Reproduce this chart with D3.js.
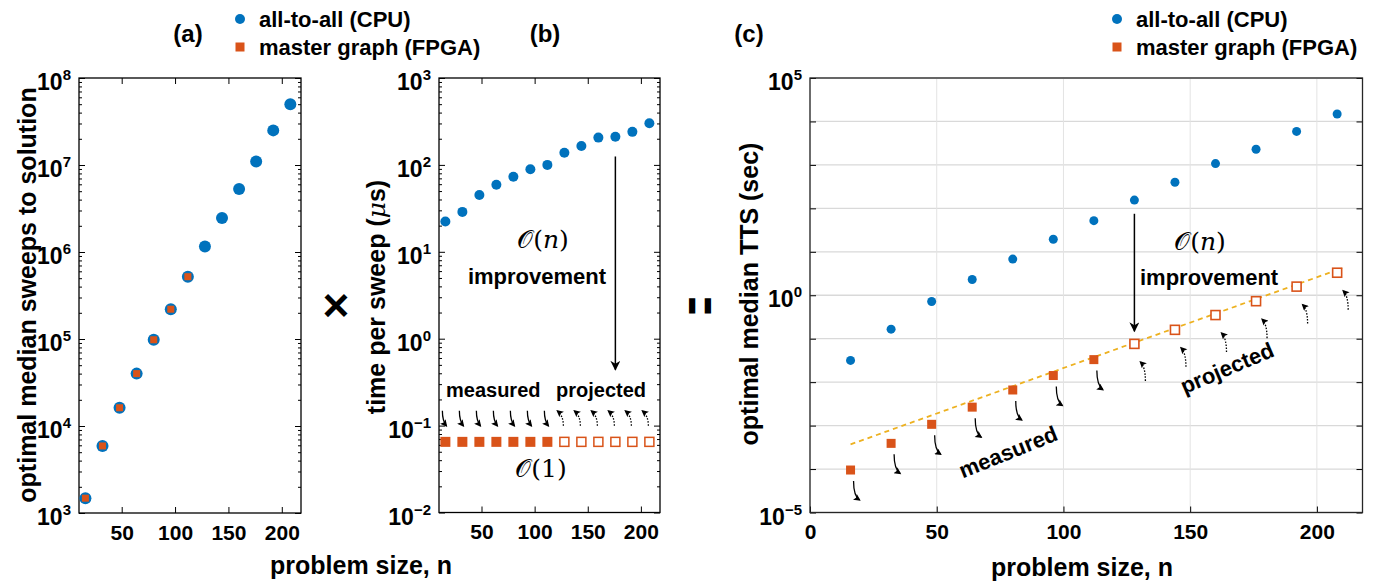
<!DOCTYPE html>
<meta charset="utf-8">
<style>
body { margin: 0; background: #fff; }
text { font-family: "Liberation Sans", Arial, sans-serif; font-weight: bold; fill: #000; }
.math { font-family: "DejaVu Serif", serif; font-weight: normal; }
</style>
<body>
<script src="https://d3js.org/d3.v7.min.js"></script>
<script>

var width = 1377, height = 582;

// ---- data ----
var nVals = [16, 32, 48, 64, 80, 96, 112, 128, 144, 160, 176, 192, 208];
var measuredCount = 7;   // FPGA points actually measured, the rest projected

// (a) optimal median sweeps to solution
var sweepsCPU  = [1.48e3, 5.9e3, 1.62e4, 4.0e4, 9.8e4, 2.2e5, 5.2e5, 1.16e6, 2.46e6, 5.3e6, 1.1e7, 2.5e7, 5.0e7];
var sweepsFPGA = [1.48e3, 5.9e3, 1.62e4, 4.0e4, 9.8e4, 2.2e5, 5.2e5];

// (b) time per sweep (us)
var timeCPU  = [22.3, 28.8, 45, 59, 73, 89, 100, 138, 165, 206, 211, 240, 302];
var timeFPGA = [0.065, 0.065, 0.065, 0.065, 0.065, 0.065, 0.065, 0.065, 0.065, 0.065, 0.065, 0.065, 0.065];

// (c) optimal median TTS (sec)
var ttsCPU  = [0.0316, 0.166, 0.72, 2.3, 6.8, 19.4, 52, 155, 398, 1070, 2290, 5900, 14800];
var ttsFPGA = [9.5e-5, 3.9e-4, 1.07e-3, 2.66e-3, 6.6e-3, 0.0142, 0.033, 0.076, 0.16, 0.35, 0.73, 1.58, 3.3];
var fitN   = [16, 210];
var fitTTS = [3.7e-4, 4.2];

var xTicksAB = [50, 100, 150, 200];
var xTicksC  = [0, 50, 100, 150, 200];
var yLabelsA = [1e3, 1e4, 1e5, 1e6, 1e7, 1e8];
var yLabelsB = [1e-2, 1e-1, 1e0, 1e1, 1e2, 1e3];
var yLabelsC = [1e-5, 1e0, 1e5];
var yGridC   = [1e-5, 1e-4, 1e-3, 1e-2, 1e-1, 1e0, 1e1, 1e2, 1e3, 1e4, 1e5];

// improvement arrows (data units)
var arrowB = {n: 176, from: 125, to: 0.44};
var arrowC = {n: 128, from: 75, to: 0.148};

var blue = "#0072BD", orange = "#D95319", gold = "#EDB120";

var svg = d3.select("body").append("svg")
    .attr("width", width)
    .attr("height", height);

var defs = svg.append("defs");
defs.append("marker").attr("id", "hs")
    .attr("viewBox", "0 0 10 10").attr("refX", 8).attr("refY", 5)
    .attr("markerUnits", "userSpaceOnUse")
    .attr("markerWidth", 8).attr("markerHeight", 7).attr("orient", "auto")
  .append("path").attr("d", "M0,0 L10,5 L0,10 L2,5 z").attr("fill", "#000");
defs.append("marker").attr("id", "hb")
    .attr("viewBox", "0 0 10 10").attr("refX", 9).attr("refY", 5)
    .attr("markerUnits", "userSpaceOnUse")
    .attr("markerWidth", 16).attr("markerHeight", 10).attr("orient", "auto")
  .append("path").attr("d", "M0,0 L10,5 L0,10 L3,5 z").attr("fill", "#000");

var xA = d3.scaleLinear([10, 218], [79, 301]);
var yA = d3.scaleLog([1e3, 1e8], [513, 78]);
var xB = d3.scaleLinear([10, 218], [439, 660]);
var yB = d3.scaleLog([1e-2, 1e3], [512.5, 78]);
var xC = d3.scaleLinear([0, 218], [810, 1362.5]);
var yC = d3.scaleLog([1e-5, 1e5], [512.5, 78]);

function noDomain(g) { g.select(".domain").remove(); g.selectAll(".tick line").attr("stroke", "#000"); }

function axes(x, y, opt) {
  var g = svg.append("g");
  var x0 = x.range()[0], x1 = x.range()[1], y0 = y.range()[1], y1 = y.range()[0];
  if (opt.grid) {
    g.selectAll(".hg").data(opt.gridY).enter().append("line")
      .attr("x1", x0).attr("x2", x1).attr("y1", y).attr("y2", y)
      .attr("stroke", "#d9d9d9").attr("stroke-width", 1.3);
    g.selectAll(".vg").data(opt.xTicks).enter().append("line")
      .attr("x1", x).attr("x2", x).attr("y1", y0).attr("y2", y1)
      .attr("stroke", "#e3e3e3").attr("stroke-width", 1);
  }
  if (opt.minor) {
    var minors = y.ticks().filter(function(v) { return Math.abs(Math.log10(v) - Math.round(Math.log10(v))) > 1e-6; });
    g.append("g").attr("transform", "translate(" + x0 + ",0)")
      .call(d3.axisLeft(y).tickValues(minors).tickSize(-3).tickFormat("")).call(noDomain);
    g.append("g").attr("transform", "translate(" + x1 + ",0)")
      .call(d3.axisRight(y).tickValues(minors).tickSize(-3).tickFormat("")).call(noDomain);
  }
  g.append("g").attr("transform", "translate(" + x0 + ",0)")
    .call(d3.axisLeft(y).tickValues(opt.majorY).tickSize(-6).tickFormat("")).call(noDomain);
  g.append("g").attr("transform", "translate(" + x1 + ",0)")
    .call(d3.axisRight(y).tickValues(opt.majorY).tickSize(-6).tickFormat("")).call(noDomain);
  g.append("g").attr("transform", "translate(0," + y0 + ")")
    .call(d3.axisTop(x).tickValues(opt.xTicks).tickSize(opt.grid ? 0 : -6).tickFormat("")).call(noDomain);
  var bx = g.append("g").attr("transform", "translate(0," + y1 + ")")
    .call(d3.axisBottom(x).tickValues(opt.xTicks).tickSize(-6).tickPadding(12)).call(noDomain);
  bx.selectAll("text").attr("font-size", 21).attr("font-family", null).attr("fill", "#000");

  // 10^k labels
  var lab = g.selectAll(".yl").data(opt.labelsY).enter().append("text")
    .attr("x", x0 - 8).attr("y", function(d) { return y(d) + 12; })
    .attr("text-anchor", "end");
  lab.append("tspan").attr("font-size", 23).text("10");
  lab.append("tspan").attr("font-size", 15).attr("dy", -10)
    .text(function(d) { return d3.format("d")(Math.round(Math.log10(d))); });

  g.append("rect").attr("x", x0).attr("y", y0).attr("width", x1 - x0).attr("height", y1 - y0)
    .attr("fill", "none").attr("stroke", opt.grid ? "#262626" : "#000").attr("stroke-width", 1.3);
  return g;
}

axes(xA, yA, {majorY: yLabelsA, labelsY: yLabelsA, xTicks: xTicksAB, minor: true});
axes(xB, yB, {majorY: yLabelsB, labelsY: yLabelsB, xTicks: xTicksAB, minor: true});
axes(xC, yC, {majorY: yGridC, labelsY: yLabelsC, xTicks: xTicksC, grid: true, gridY: yGridC});

// ---- panel (a) ----
var ptsA = nVals.map(function(n, i) { return {n: n, v: sweepsCPU[i]}; });
svg.append("g").selectAll("circle").data(ptsA).enter().append("circle")
  .attr("cx", function(d) { return xA(d.n); }).attr("cy", function(d) { return yA(d.v); })
  .attr("r", 6).attr("fill", blue);
var sqA = nVals.slice(0, sweepsFPGA.length).map(function(n, i) { return {n: n, v: sweepsFPGA[i]}; });
svg.append("g").selectAll("rect").data(sqA).enter().append("rect")
  .attr("x", function(d) { return xA(d.n) - 3.5; }).attr("y", function(d) { return yA(d.v) - 3.5; })
  .attr("width", 7).attr("height", 7).attr("fill", orange);

// ---- panel (b) ----
var ptsB = nVals.map(function(n, i) { return {n: n, v: timeCPU[i]}; });
svg.append("g").selectAll("circle").data(ptsB).enter().append("circle")
  .attr("cx", function(d) { return xB(d.n); }).attr("cy", function(d) { return yB(d.v); })
  .attr("r", 5).attr("fill", blue);
var sqB = nVals.map(function(n, i) { return {n: n, v: timeFPGA[i], m: i < measuredCount}; });
svg.append("g").selectAll("rect").data(sqB).enter().append("rect")
  .attr("x", function(d) { return xB(d.n) - (d.m ? 5 : 4.5); })
  .attr("y", function(d) { return yB(d.v) - (d.m ? 5 : 4.5); })
  .attr("width", function(d) { return d.m ? 10 : 9; })
  .attr("height", function(d) { return d.m ? 10 : 9; })
  .attr("fill", function(d) { return d.m ? orange : "#fff"; })
  .attr("stroke", function(d) { return d.m ? "none" : orange; })
  .attr("stroke-width", 1.5);
svg.append("g").selectAll("path").data(sqB).enter().append("path")
  .attr("d", function(d) {
    var x = xB(d.n), y = yB(d.v);
    return d.m ? "M" + (x - 3) + "," + (y - 31) + " Q" + (x - 3) + "," + (y - 21) + " " + (x + 1) + "," + (y - 16)
               : "M" + (x - 1) + "," + (y - 16) + " Q" + (x - 1) + "," + (y - 26) + " " + (x - 7) + "," + (y - 31);
  })
  .attr("fill", "none").attr("stroke", "#000").attr("stroke-width", 1.3)
  .attr("stroke-dasharray", function(d) { return d.m ? null : "1.5,1.5"; })
  .attr("marker-end", "url(#hs)");

svg.append("line")
  .attr("x1", xB(arrowB.n)).attr("x2", xB(arrowB.n))
  .attr("y1", yB(arrowB.from)).attr("y2", yB(arrowB.to))
  .attr("stroke", "#000").attr("stroke-width", 1.5).attr("marker-end", "url(#hb)");

var on = svg.append("text").attr("class", "math").attr("x", 543).attr("y", 248)
  .attr("text-anchor", "middle").attr("font-size", 25);
on.append("tspan").text("𝒪(");
on.append("tspan").attr("font-style", "italic").text("n");
on.append("tspan").text(")");
svg.append("text").attr("x", 537).attr("y", 284).attr("text-anchor", "middle").attr("font-size", 22).text("improvement");
svg.append("text").attr("x", 446).attr("y", 397).attr("font-size", 20).text("measured");
svg.append("text").attr("x", 556).attr("y", 397).attr("font-size", 20).text("projected");
svg.append("text").attr("class", "math").attr("x", 541).attr("y", 477)
  .attr("text-anchor", "middle").attr("font-size", 25).text("𝒪(1)");

// ---- panel (c) ----
svg.append("line")
  .attr("x1", xC(fitN[0])).attr("y1", yC(fitTTS[0]))
  .attr("x2", xC(fitN[1])).attr("y2", yC(fitTTS[1]))
  .attr("stroke", gold).attr("stroke-width", 1.8).attr("stroke-dasharray", "5,4");
var ptsC = nVals.map(function(n, i) { return {n: n, v: ttsCPU[i]}; });
svg.append("g").selectAll("circle").data(ptsC).enter().append("circle")
  .attr("cx", function(d) { return xC(d.n); }).attr("cy", function(d) { return yC(d.v); })
  .attr("r", 4.5).attr("fill", blue);
var sqC = nVals.map(function(n, i) { return {n: n, v: ttsFPGA[i], m: i < measuredCount}; });
svg.append("g").selectAll("rect").data(sqC).enter().append("rect")
  .attr("x", function(d) { return xC(d.n) - 4.5; })
  .attr("y", function(d) { return yC(d.v) - 4.5; })
  .attr("width", 9).attr("height", 9)
  .attr("fill", function(d) { return d.m ? orange : "#fff"; })
  .attr("stroke", orange).attr("stroke-width", function(d) { return d.m ? 0 : 1.6; });
svg.append("g").selectAll("path").data(sqC).enter().append("path")
  .attr("d", function(d) {
    var x = xC(d.n), y = yC(d.v);
    return d.m ? "M" + (x + 3) + "," + (y + 11) + " Q" + (x + 3) + "," + (y + 26) + " " + (x + 9) + "," + (y + 30)
               : "M" + (x + 11) + "," + (y + 37) + " Q" + (x + 11) + "," + (y + 23) + " " + (x + 6) + "," + (y + 18);
  })
  .attr("fill", "none").attr("stroke", "#000").attr("stroke-width", 1.3)
  .attr("stroke-dasharray", function(d) { return d.m ? null : "1.5,1.5"; })
  .attr("marker-end", "url(#hs)");

svg.append("line")
  .attr("x1", xC(arrowC.n)).attr("x2", xC(arrowC.n))
  .attr("y1", yC(arrowC.from)).attr("y2", yC(arrowC.to))
  .attr("stroke", "#000").attr("stroke-width", 1.5).attr("marker-end", "url(#hb)");

var onC = svg.append("text").attr("class", "math").attr("x", 1200).attr("y", 250)
  .attr("text-anchor", "middle").attr("font-size", 25);
onC.append("tspan").text("𝒪(");
onC.append("tspan").attr("font-style", "italic").text("n");
onC.append("tspan").text(")");
svg.append("text").attr("x", 1140).attr("y", 285).attr("font-size", 22).text("improvement");
svg.append("text").attr("transform", "translate(1011,459) rotate(-22)")
  .attr("text-anchor", "middle").attr("font-size", 22).text("measured");
svg.append("text").attr("transform", "translate(1230,375) rotate(-23)")
  .attr("text-anchor", "middle").attr("font-size", 22).text("projected");

// ---- titles, axis labels, legends ----
svg.append("text").attr("x", 188).attr("y", 42).attr("text-anchor", "middle").attr("font-size", 24).text("(a)");
svg.append("text").attr("x", 545).attr("y", 42).attr("text-anchor", "middle").attr("font-size", 24).text("(b)");
svg.append("text").attr("x", 749).attr("y", 42).attr("text-anchor", "middle").attr("font-size", 24).text("(c)");

svg.append("text").attr("transform", "translate(36,295) rotate(-90)")
  .attr("text-anchor", "middle").attr("font-size", 25).text("optimal median sweeps to solution");
var tl = svg.append("text").attr("transform", "translate(385,297) rotate(-90)")
  .attr("text-anchor", "middle").attr("font-size", 25);
tl.append("tspan").text("time per sweep (");
tl.append("tspan").attr("class", "math").attr("font-style", "italic").text("μ");
tl.append("tspan").text("s)");
svg.append("text").attr("transform", "translate(758,294) rotate(-90)")
  .attr("text-anchor", "middle").attr("font-size", 25).text("optimal median TTS (sec)");

svg.append("text").attr("x", 361).attr("y", 574).attr("text-anchor", "middle").attr("font-size", 25).text("problem size, n");
svg.append("text").attr("x", 1082).attr("y", 576).attr("text-anchor", "middle").attr("font-size", 25).text("problem size, n");

svg.append("text").attr("x", 336).attr("y", 321).attr("text-anchor", "middle").attr("font-size", 46).text("×");
svg.append("text").attr("transform", "translate(701,306) rotate(90) scale(0.9,1.7)")
  .attr("text-anchor", "middle").attr("dy", "0.35em").attr("font-size", 34).text("=");

function legend(x) {
  var g = svg.append("g");
  g.append("circle").attr("cx", x).attr("cy", 19).attr("r", 5).attr("fill", blue);
  g.append("rect").attr("x", x - 4.5).attr("y", 42.5).attr("width", 9).attr("height", 9).attr("fill", orange);
  g.append("text").attr("x", x + 19).attr("y", 27).attr("font-size", 22).text("all-to-all (CPU)");
  g.append("text").attr("x", x + 19).attr("y", 55).attr("font-size", 22).text("master graph (FPGA)");
}
legend(240);
legend(1117);

</script>
